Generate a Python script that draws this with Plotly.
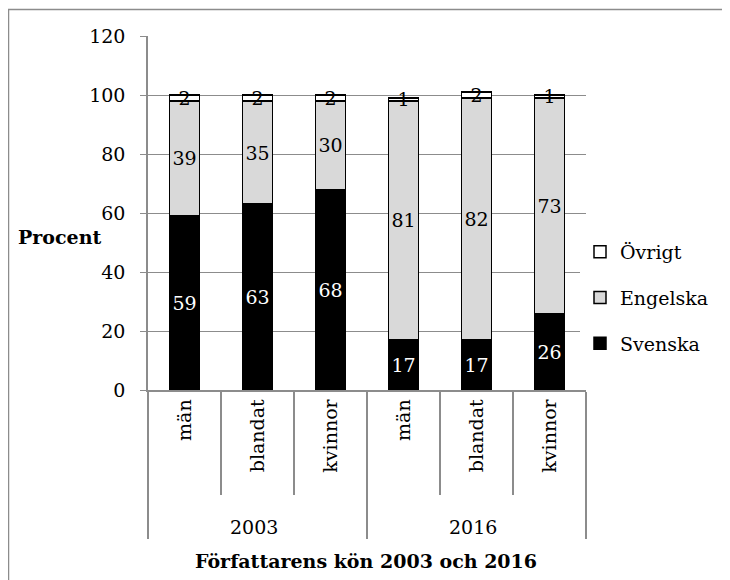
import plotly.graph_objects as go

years = ["2003", "2003", "2003", "2016", "2016", "2016"]
genders = ["män", "blandat", "kvinnor", "män", "blandat", "kvinnor"]
svenska = [59, 63, 68, 17, 17, 26]
engelska = [39, 35, 30, 81, 82, 73]
ovrigt = [2, 2, 2, 1, 2, 1]
y_ticks = [0, 20, 40, 60, 80, 100, 120]

FONT = "DejaVu Serif"
FS = 19
OFF = 8  # page offset of the figure (body margin)
PAD = "\u00a0" * 4  # extra room below the rotated inner labels

fig = go.Figure()
series = [
    ("Svenska", svenska, "#000000", "white", 3),
    ("Engelska", engelska, "#d9d9d9", "black", 2),
    ("Övrigt", ovrigt, "#ffffff", "black", 1),
]
inner = [PAD + g for g in genders]
for name, vals, col, tcol, rank in series:
    fig.add_trace(go.Bar(
        name=name, x=[years, inner], y=vals,
        marker=dict(color=col, line=dict(color="black", width=1.5)),
        text=[str(v) for v in vals], textposition="inside", textangle=0,
        insidetextanchor="middle", constraintext="none",
        textfont=dict(family=FONT, size=FS, color=tcol),
        legendgroup=name, legendrank=rank,
    ))

L, T = 140, 28
W, H = 730, 580
pw, ph = 438, 354
R, B = W - L - pw, H - T - ph

def px2x(px):
    return (px - OFF - L) / pw

def py2y(py):
    return (T + ph - (py - OFF)) / ph

fig.update_layout(
    width=W, height=H, barmode="stack", bargap=0.59,
    margin=dict(l=L, r=R, t=T, b=B, autoexpand=False),
    paper_bgcolor="white", plot_bgcolor="white",
    font=dict(family=FONT, size=FS, color="black"),
    showlegend=True,
    legend=dict(x=px2x(580), y=py2y(233), xanchor="left", yanchor="top",
                traceorder="grouped", tracegroupgap=18,
                font=dict(family=FONT, size=FS), itemwidth=30),
    xaxis=dict(type="multicategory", showline=True, linecolor="#8c8c8c", linewidth=1.5,
               ticks="outside", tickson="boundaries", ticklen=103, tickcolor="#8c8c8c", tickwidth=1.5,
               tickangle=-90, showdividers=True, dividercolor="#8c8c8c", dividerwidth=1.5,
               tickfont=dict(family=FONT, size=FS)),
    yaxis=dict(range=[0, 120], tickvals=y_ticks, showgrid=True, gridcolor="#8c8c8c", gridwidth=1.3,
               ticks="outside", ticklen=6, tickcolor="#8c8c8c", showline=True, linecolor="#8c8c8c",
               linewidth=1.5, zeroline=False, ticklabelstandoff=11,
               tickfont=dict(family=FONT, size=FS)),
    annotations=[
        dict(text="<b>Procent</b>", xref="paper", yref="paper", x=px2x(16), y=py2y(237),
             xanchor="left", yanchor="middle", showarrow=False, font=dict(family=FONT, size=FS)),
        dict(text="<b>Författarens kön 2003 och 2016</b>", xref="paper", yref="paper",
             x=px2x(366), y=py2y(561), xanchor="center", yanchor="middle", showarrow=False,
             font=dict(family=FONT, size=FS)),
    ],
    shapes=[
        dict(type="rect", xref="paper", yref="paper", x0=px2x(8.5), y0=py2y(620), x1=px2x(780), y1=py2y(9.5),
             line=dict(color="#8c8c8c", width=1.5), fillcolor="rgba(0,0,0,0)", layer="below"),
    ],
)

fig.write_html("out.html")
